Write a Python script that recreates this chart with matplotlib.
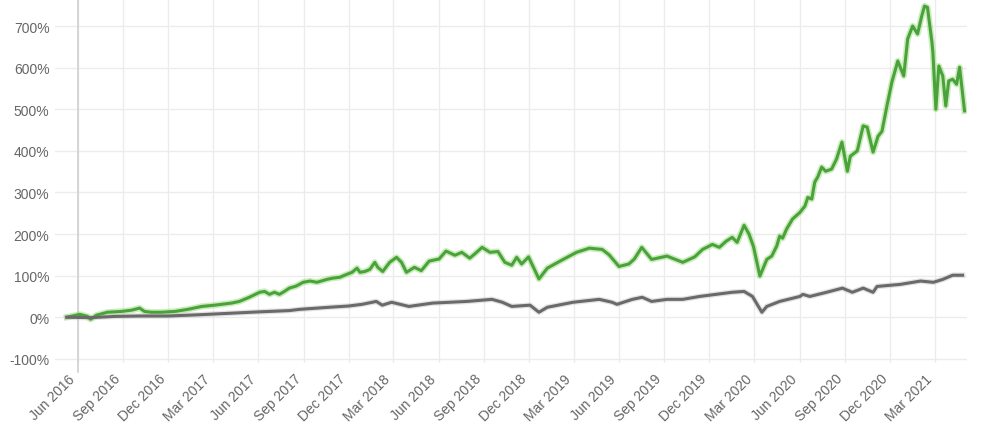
import matplotlib
matplotlib.use('Agg')
import matplotlib.pyplot as plt
import matplotlib.dates as mdates
import pandas as pd

plt.rcParams['font.family'] = ['Liberation Sans', 'DejaVu Sans']

# green series (cumulative return, %)
green_dates = ['2016-05-10', '2016-06-05', '2016-06-21', '2016-06-27', '2016-07-09', '2016-07-31',
               '2016-08-29', '2016-09-18', '2016-10-04', '2016-10-14', '2016-10-28', '2016-11-17',
               '2016-12-15', '2017-01-10', '2017-02-07', '2017-03-05', '2017-04-08', '2017-04-24',
               '2017-05-14', '2017-06-04', '2017-06-14', '2017-06-24', '2017-07-04', '2017-07-14',
               '2017-07-24', '2017-08-03', '2017-08-17', '2017-08-31', '2017-09-14', '2017-09-28',
               '2017-10-18', '2017-10-30', '2017-11-13', '2017-11-27', '2017-12-08', '2017-12-18',
               '2017-12-24', '2018-01-03', '2018-01-13', '2018-01-23', '2018-01-29', '2018-02-08',
               '2018-02-22', '2018-03-08', '2018-03-18', '2018-03-28', '2018-04-13', '2018-04-27',
               '2018-05-13', '2018-06-02', '2018-06-16', '2018-07-04', '2018-07-18', '2018-08-03',
               '2018-08-13', '2018-08-28', '2018-09-13', '2018-09-29', '2018-10-13', '2018-10-27',
               '2018-11-06', '2018-11-16', '2018-11-30', '2018-12-21', '2019-01-07', '2019-02-08',
               '2019-03-07', '2019-04-02', '2019-04-28', '2019-05-12', '2019-06-01', '2019-06-21',
               '2019-07-02', '2019-07-17', '2019-08-06', '2019-09-06', '2019-10-08', '2019-11-01',
               '2019-11-17', '2019-12-07', '2019-12-21', '2020-01-04', '2020-01-16', '2020-01-26',
               '2020-02-09', '2020-02-19', '2020-02-28', '2020-03-12', '2020-03-26', '2020-04-05',
               '2020-04-15', '2020-04-21', '2020-04-27', '2020-05-05', '2020-05-17', '2020-06-01',
               '2020-06-11', '2020-06-17', '2020-06-25', '2020-07-01', '2020-07-07', '2020-07-15',
               '2020-07-23', '2020-08-04', '2020-08-14', '2020-08-25', '2020-09-05', '2020-09-11',
               '2020-09-25', '2020-10-07', '2020-10-15', '2020-10-27', '2020-11-06', '2020-11-14',
               '2020-11-24', '2020-12-04', '2020-12-16', '2020-12-28', '2021-01-05', '2021-01-15',
               '2021-01-25', '2021-02-02', '2021-02-08', '2021-02-14', '2021-02-23', '2021-02-25',
               '2021-03-03', '2021-03-09', '2021-03-17', '2021-03-23', '2021-03-29', '2021-04-06',
               '2021-04-14', '2021-04-20', '2021-04-30']
green_vals = [0, 7, 2, -5, 5, 12,
              14, 17, 22, 14, 12, 12,
              14, 19, 26, 29, 34, 38,
              48, 60, 62, 55, 60, 55,
              62, 70, 75, 84, 87, 84,
              91, 94, 96, 103, 108, 118,
              108, 110, 115, 132, 120, 110,
              132, 144, 132, 108, 120, 112,
              135, 140, 159, 149, 156, 142,
              152, 168, 156, 158, 132, 125,
              144, 128, 145, 92, 118, 139,
              156, 166, 163, 150, 122, 128,
              140, 168, 139, 147, 132, 145,
              163, 175, 168, 183, 192, 180,
              221, 200, 170, 99, 139, 147,
              171, 195, 190, 212, 236, 252,
              267, 288, 284, 325, 337, 361,
              351, 356, 380, 421, 351, 387,
              400, 460, 457, 397, 435, 447,
              508, 565, 616, 580, 669, 700,
              681, 722, 748, 745, 662, 637,
              500, 604, 580, 508, 568, 572,
              560, 601, 496]

# gray series (benchmark, %)
gray_dates = ['2016-05-10', '2016-06-27', '2016-08-15', '2016-10-04', '2016-12-01', '2017-02-02',
              '2017-04-13', '2017-06-04', '2017-08-03', '2017-08-24', '2017-10-23', '2017-12-01',
              '2017-12-28', '2018-01-26', '2018-02-07', '2018-02-26', '2018-04-02', '2018-05-20',
              '2018-07-28', '2018-09-17', '2018-10-08', '2018-10-27', '2018-12-03', '2018-12-21',
              '2019-01-07', '2019-02-28', '2019-04-22', '2019-05-18', '2019-05-28', '2019-06-28',
              '2019-07-18', '2019-08-06', '2019-09-06', '2019-10-08', '2019-11-11', '2020-01-16',
              '2020-02-09', '2020-02-26', '2020-03-16', '2020-03-26', '2020-04-21', '2020-06-01',
              '2020-06-07', '2020-06-21', '2020-07-25', '2020-08-26', '2020-09-15', '2020-10-07',
              '2020-10-27', '2020-11-04', '2020-12-21', '2021-01-31', '2021-02-26', '2021-03-17',
              '2021-04-06', '2021-04-26']
gray_vals = [0, -1, 2, 3, 3, 6,
             10, 13, 16, 19, 24, 27,
             31, 38, 29, 36, 26, 34,
             38, 43, 36, 26, 29, 12,
             24, 36, 43, 36, 31, 43,
             48, 38, 43, 43, 50, 60,
             62, 50, 12, 26, 38, 50,
             55, 50, 60, 70, 60, 70,
             60, 74, 79, 87, 84, 91,
             101, 101]

y_ticks = [-100, 0, 100, 200, 300, 400, 500, 600, 700]
x_ticks = pd.date_range('2016-06-01', '2021-03-01', freq='3MS')

fig = plt.figure(figsize=(9.82, 4.27), dpi=100)
ax = fig.add_axes([55 / 982, 63 / 427, 912 / 982, 364 / 427])

gd = pd.to_datetime(green_dates)
sd = pd.to_datetime(gray_dates)
ax.plot(gd, green_vals, color='#8fd66f', lw=4.5, alpha=0.45, solid_joinstyle='round', zorder=3)
ax.plot(gd, green_vals, color='#4aa33a', lw=2.2, solid_joinstyle='round', zorder=4)
ax.plot(sd, gray_vals, color='#bbbbbb', lw=4, alpha=0.4, zorder=3)
ax.plot(sd, gray_vals, color='#6a6a6a', lw=2.2, zorder=4)

ax.set_ylim(-110, 765)
ax.set_xlim(pd.Timestamp('2016-04-16'), pd.Timestamp('2021-05-05'))
ax.set_yticks(y_ticks)
ax.set_yticklabels(['%d%%' % v for v in y_ticks])
ax.set_xticks(x_ticks)
ax.set_xticklabels([d.strftime('%b %Y') for d in x_ticks], rotation=45, ha='right')

ax.grid(True, color='#ececec', lw=1)
ax.set_axisbelow(True)
ax.axvline(x_ticks[0], ymin=-0.025, ymax=1, color='#d0d0d0', lw=1.2, clip_on=False, zorder=2)
for s in ax.spines.values():
    s.set_visible(False)
ax.tick_params(axis='both', length=0, colors='#666666', labelsize=10)
ax.tick_params(axis='y', pad=4)
ax.tick_params(axis='x', pad=6)

fig.savefig('out.png', dpi=100, facecolor='white')
